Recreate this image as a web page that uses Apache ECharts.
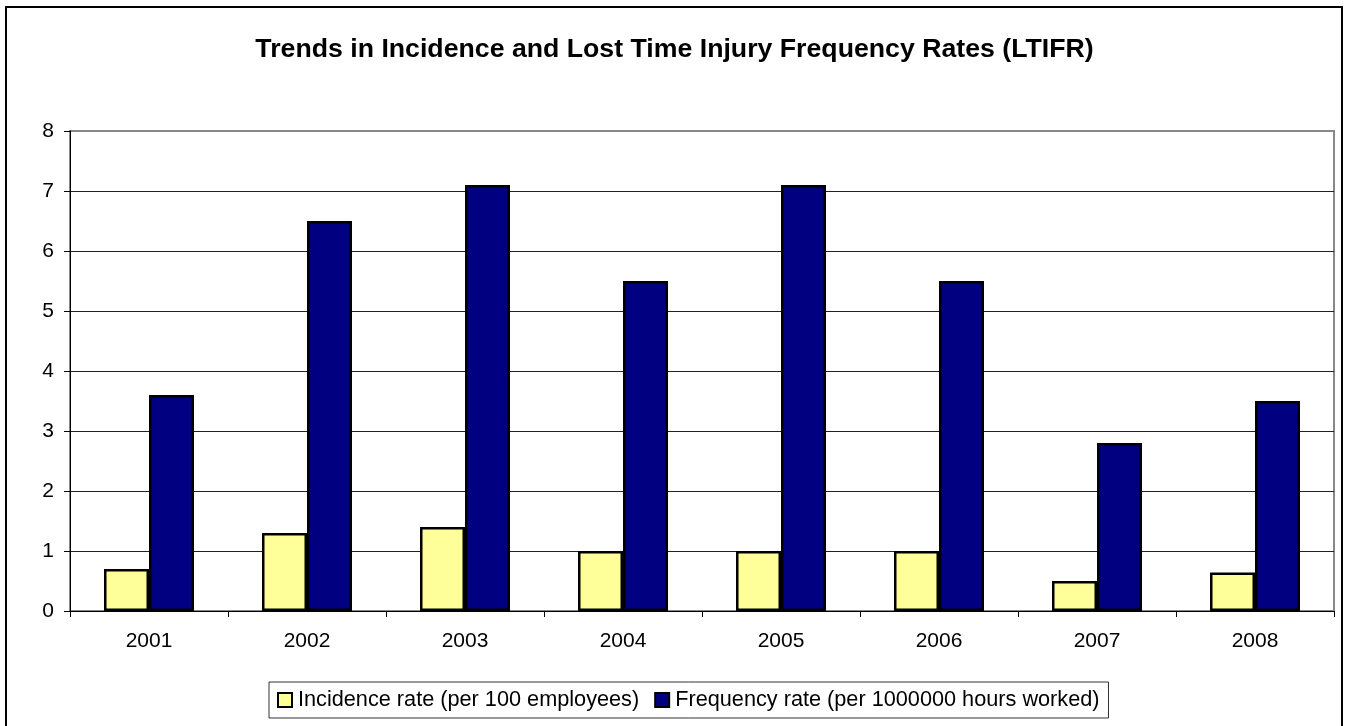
<!DOCTYPE html>
<html>
<head>
<meta charset="utf-8">
<title>Trends in Incidence and Lost Time Injury Frequency Rates (LTIFR)</title>
<script src="https://cdn.jsdelivr.net/npm/echarts@6/dist/echarts.min.js"></script>
<style>
  html, body { margin: 0; padding: 0; background: #fff; }
  #chart { width: 1349px; height: 726px; }
</style>
</head>
<body>
<div id="chart"></div>
<script>
// Injury statistics by year
const years = ['2001', '2002', '2003', '2004', '2005', '2006', '2007', '2008'];
const incidenceRate = [0.7, 1.3, 1.4, 1.0, 1.0, 1.0, 0.5, 0.64];
const frequencyRate = [3.6, 6.5, 7.1, 5.5, 7.1, 5.5, 2.8, 3.5];
const seriesNames = ['Incidence rate (per 100 employees)', 'Frequency rate (per 1000000 hours worked)'];

const FONT = '"Liberation Sans", Arial, Helvetica, sans-serif';

const chart = echarts.init(document.getElementById('chart'), null, { renderer: 'canvas' });

chart.setOption({
  backgroundColor: '#fff',
  animation: false,
  textStyle: { fontFamily: FONT, color: '#000' },
  title: {
    text: 'Trends in Incidence and Lost Time Injury Frequency Rates (LTIFR)',
    left: 'center',
    top: 31,
    textStyle: { fontFamily: FONT, fontSize: 26.7, fontWeight: 'bold', color: '#000' }
  },
  graphic: [{
    type: 'rect',
    shape: { x: 6, y: 7, width: 1336, height: 740 },
    style: { fill: 'none', stroke: '#000', lineWidth: 2 },
    silent: true,
    z: 100
  }],
  grid: {
    left: 70, right: 15, top: 131, bottom: 115,
    show: true,
    borderColor: '#888',
    borderWidth: 2,
    backgroundColor: '#fff'
  },
  legend: {
    data: seriesNames,
    left: 269,
    top: 682,
    orient: 'horizontal',
    padding: [7, 9, 7, 8],
    itemGap: 15,
    itemWidth: 14,
    itemHeight: 14,
    borderColor: '#333',
    borderWidth: 1,
    icon: 'rect',
    itemStyle: { borderColor: '#000', borderWidth: 2 },
    textStyle: { fontFamily: FONT, fontSize: 21.7, color: '#000', lineHeight: 22, padding: [0, 0, 0, 1] }
  },
  xAxis: {
    type: 'category',
    data: years,
    boundaryGap: true,
    axisLine: { show: true, lineStyle: { color: '#000', width: 1 } },
    axisTick: { show: true, inside: false, length: 6, alignWithLabel: false, lineStyle: { color: '#000' } },
    axisLabel: { fontFamily: FONT, fontSize: 21, color: '#000', margin: 20 },
    splitLine: { show: false }
  },
  yAxis: {
    type: 'value',
    min: 0,
    max: 8,
    interval: 1,
    axisLine: { show: true, lineStyle: { color: '#000', width: 1 } },
    axisTick: { show: true, inside: false, length: 6, lineStyle: { color: '#000' } },
    axisLabel: { fontFamily: FONT, fontSize: 21, color: '#000', margin: 16 },
    splitLine: { show: true, showMinLine: false, showMaxLine: false, lineStyle: { color: '#222', width: 1 } }
  },
  series: [
    {
      name: seriesNames[0],
      type: 'bar',
      data: incidenceRate,
      barWidth: 45,
      barGap: '0%',
      itemStyle: { color: '#FFFF99', borderColor: '#000', borderWidth: 2.5 }
    },
    {
      name: seriesNames[1],
      type: 'bar',
      data: frequencyRate,
      barWidth: 45,
      barGap: '0%',
      itemStyle: { color: '#000080', borderColor: '#000', borderWidth: 2.5 }
    }
  ]
});
</script>
</body>
</html>
